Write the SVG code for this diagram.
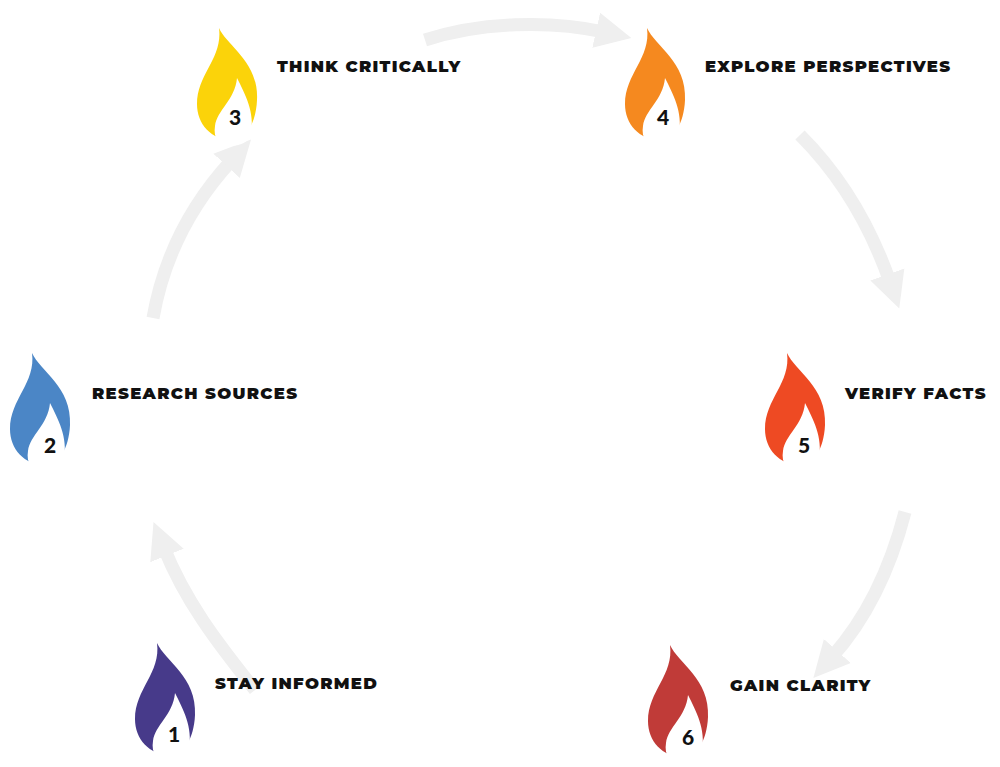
<svg xmlns="http://www.w3.org/2000/svg" width="1000" height="767" viewBox="0 0 1000 767">
<style>
.lbl{font-family:"Montserrat","Lato","Open Sans",sans-serif;font-weight:900;font-size:16.5px;letter-spacing:1.3px;fill:#111}
.num{font-family:"Lato","Open Sans",sans-serif;font-weight:900;font-size:21px;fill:#111;text-anchor:middle}
.arc{fill:none;stroke:#efefef;stroke-width:13;marker-end:url(#ah)}
</style>
<defs>
<marker id="ah" markerUnits="userSpaceOnUse" markerWidth="40" markerHeight="40" refX="8" refY="20" orient="auto" viewBox="0 0 40 40">
<path d="M0,2 L36,20 L0,38 Z" fill="#efefef"/>
</marker>
<g id="flame">
<path d="M22,0 C30,18 62,34 60,72 C59,96 48,112 36,112 C14,112 0,96 0,76 C0,46 26,30 22,0 Z"/>
<path d="M40,50 C48,66 58,84 54,106 C52,114 44,118 32,118 C22,118 16,110 18,98 C20,82 38,72 40,50 Z" fill="#fff"/>
</g>
</defs>
<g id="connectors">
<path class="arc" d="M255,690 C215,640 185,600 164,548"/>
<path class="arc" d="M153,318 C165,250 195,200 232,160"/>
<path class="arc" d="M425,40 C480,22 550,20 604,32"/>
<path class="arc" d="M800,135 C840,175 870,225 890,282"/>
<path class="arc" d="M905,512 C890,570 865,620 832,657"/>
</g>
<g id="n1"><use href="#flame" x="135" y="643" fill="#473a8a"/><text class="num" x="174" y="742">1</text><text class="lbl" x="215" y="689">STAY INFORMED</text></g>
<g id="n2"><use href="#flame" x="10" y="353" fill="#4b86c6"/><text class="num" x="50" y="453">2</text><text class="lbl" x="92" y="399">RESEARCH SOURCES</text></g>
<g id="n3"><use href="#flame" x="197" y="28" fill="#fbd30a"/><text class="num" x="235" y="125">3</text><text class="lbl" x="277" y="72">THINK CRITICALLY</text></g>
<g id="n4"><use href="#flame" x="625" y="28" fill="#f5891f"/><text class="num" x="663" y="125">4</text><text class="lbl" x="705" y="72">EXPLORE PERSPECTIVES</text></g>
<g id="n5"><use href="#flame" x="765" y="353" fill="#ee4a23"/><text class="num" x="804" y="453">5</text><text class="lbl" x="845" y="399">VERIFY FACTS</text></g>
<g id="n6"><use href="#flame" x="648" y="645" fill="#c03b38"/><text class="num" x="688" y="745">6</text><text class="lbl" x="730" y="691">GAIN CLARITY</text></g>
</svg>
